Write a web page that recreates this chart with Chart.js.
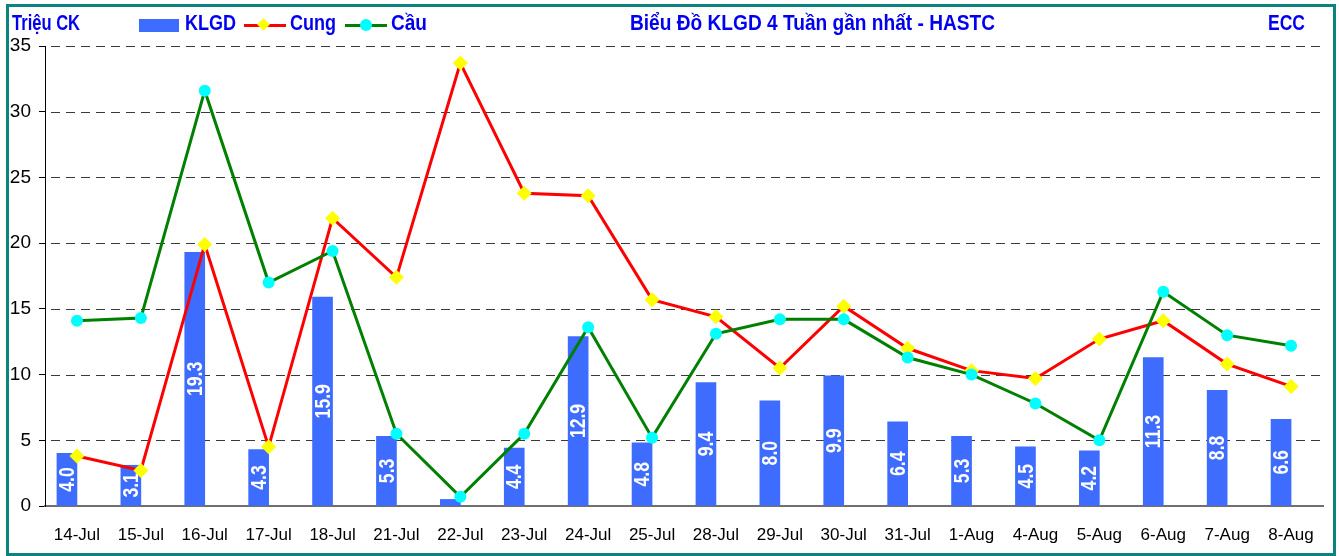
<!DOCTYPE html>
<html><head><meta charset="utf-8">
<script src="https://cdn.jsdelivr.net/npm/chart.js@4.4.1/dist/chart.umd.min.js"></script>
<style>
html,body{margin:0;padding:0;background:#fff;}
#wrap{position:relative;width:1339px;height:556px;overflow:hidden;background:#fff;}
#c{position:absolute;left:0;top:0;}
#frame{position:absolute;left:6px;top:4px;width:1330px;height:552px;box-sizing:border-box;border:3px solid #0B847F;pointer-events:none;}
.hd{position:absolute;font-family:"Liberation Sans",Arial,sans-serif;font-weight:bold;color:#0000F0;font-size:22px;line-height:1;white-space:nowrap;transform-origin:0 0;}
.sw{position:absolute;}
</style></head>
<body><div id="wrap"><canvas id="c" width="1339" height="556"></canvas><div id="frame"></div>
<div class="hd" data-w="68" style="left:12px;top:12px;">Triệu CK</div>
<div class="sw" style="left:139px;top:19px;width:40px;height:13px;background:#3D6CFF;"></div>
<div class="hd" data-w="51" style="left:185px;top:12px;">KLGD</div>
<div class="sw" style="left:244px;top:24px;width:42px;height:3px;background:#FF0000;"></div>
<div class="sw" style="left:259px;top:20px;width:9px;height:9px;background:#FFFF00;transform:rotate(45deg);"></div>
<div class="hd" data-w="46" style="left:290px;top:12px;">Cung</div>
<div class="sw" style="left:345px;top:24px;width:42px;height:3px;background:#008000;"></div>
<div class="sw" style="left:360px;top:19px;width:12px;height:12px;border-radius:50%;background:#00FFFF;"></div>
<div class="hd" data-w="36" style="left:391px;top:12px;">Cầu</div>
<div class="hd" data-w="365" style="left:630px;top:12px;">Biểu Đồ KLGD 4 Tuần gần nhất - HASTC</div>
<div class="hd" data-w="37" style="left:1268px;top:12px;">ECC</div>
</div>
<script>
const categories = ['14-Jul','15-Jul','16-Jul','17-Jul','18-Jul','21-Jul','22-Jul','23-Jul','24-Jul','25-Jul','28-Jul','29-Jul','30-Jul','31-Jul','1-Aug','4-Aug','5-Aug','6-Aug','7-Aug','8-Aug'];
const klgd = [4.0,3.1,19.3,4.3,15.9,5.3,0.5,4.4,12.9,4.8,9.4,8.0,9.9,6.4,5.3,4.5,4.2,11.3,8.8,6.6];
const cung = [3.8,2.7,19.9,4.5,21.9,17.4,33.7,23.8,23.6,15.7,14.4,10.5,15.2,12.0,10.3,9.7,12.7,14.1,10.8,9.1];
const cau = [14.1,14.3,31.6,17.0,19.4,5.5,0.7,5.5,13.6,5.2,13.1,14.2,14.2,11.3,10.0,7.8,5.0,16.3,13.0,12.2];
const yTicks = [0,5,10,15,20,25,30,35];

const SANS = '"Liberation Sans",Arial,sans-serif';

// fit header texts to their widths (text is drawn tall and narrow in the original)
document.querySelectorAll('.hd').forEach(el => {
  const w = el.getBoundingClientRect().width;
  const t = parseFloat(el.dataset.w);
  if (w > 0) el.style.transform = 'scaleX(' + (t / w).toFixed(3) + ')';
});

const dashGrid = {
  id: 'dashGrid',
  beforeDatasetsDraw(chart) {
    const {ctx, chartArea: a, scales: {y}} = chart;
    ctx.save();
    ctx.strokeStyle = '#3a3a3a';
    ctx.lineWidth = 1;
    ctx.setLineDash([9, 6]);
    ctx.lineDashOffset = -5;
    for (const v of yTicks) {
      if (v === 0) continue;
      const py = Math.round(y.getPixelForValue(v)) + 0.5;
      ctx.beginPath(); ctx.moveTo(a.left + 1, py); ctx.lineTo(a.right, py); ctx.stroke();
    }
    ctx.restore();
  }
};

const barLabels = {
  id: 'barLabels',
  afterDatasetDraw(chart, args) {
    if (args.index !== 2) return;
    const {ctx} = chart;
    const meta = chart.getDatasetMeta(2);
    ctx.save();
    ctx.fillStyle = '#FFFFFF';
    ctx.font = 'bold 22px ' + SANS;
    ctx.textAlign = 'center';
    ctx.textBaseline = 'middle';
    meta.data.forEach((el, i) => {
      const v = klgd[i];
      if (v < 1) return;
      const cy = (el.y + el.base) / 2;
      ctx.save();
      ctx.translate(el.x + 1, cy);
      ctx.rotate(-Math.PI / 2);
      ctx.scale(0.8, 1);
      ctx.fillText(v.toFixed(1), 0, 0);
      ctx.restore();
    });
    ctx.restore();
  }
};

new Chart(document.getElementById('c'), {
  data: {
    labels: categories,
    datasets: [
      { type: 'line', label: 'Cầu', data: cau, order: 0, borderColor: '#008000', borderWidth: 3,
        pointStyle: 'circle', pointRadius: 6, pointBackgroundColor: '#00FFFF', pointBorderWidth: 0, tension: 0 },
      { type: 'line', label: 'Cung', data: cung, order: 1, borderColor: '#FF0000', borderWidth: 3,
        pointStyle: 'rectRot', pointRadius: 7.5, pointBackgroundColor: '#FFFF00', pointBorderWidth: 0, tension: 0 },
      { type: 'bar', label: 'KLGD', data: klgd, order: 2, backgroundColor: '#3D6CFF', barThickness: 20 },
      { type: 'bar', label: '', data: categories.map(() => null), order: 3, backgroundColor: 'rgba(0,0,0,0)', barThickness: 20 }
    ]
  },
  options: {
    responsive: false,
    animation: false,
    devicePixelRatio: 1,
    layout: { padding: { left: 0, top: 46, right: 16, bottom: 0 } },
    plugins: { legend: { display: false }, tooltip: { enabled: false } },
    scales: {
      x: {
        afterFit(s) { s.height = 50; },
        grid: { display: false, drawTicks: false },
        border: { display: true, color: '#707070', width: 2 },
        ticks: { color: '#000', font: { family: SANS, size: 17 }, padding: 19, maxRotation: 0, autoSkip: false }
      },
      y: {
        min: 0, max: 35,
        afterFit(s) { s.width = 45; },
        afterBuildTicks(s) { s.ticks = yTicks.map(v => ({ value: v })); },
        grid: { drawOnChartArea: false, drawTicks: true, tickLength: 6, color: '#000', tickColor: '#000' },
        border: { display: true, color: '#000', width: 1 },
        ticks: { color: '#000', font: { family: SANS, size: 19 }, padding: 8 }
      }
    }
  },
  plugins: [dashGrid, barLabels]
});
</script>
</body></html>
